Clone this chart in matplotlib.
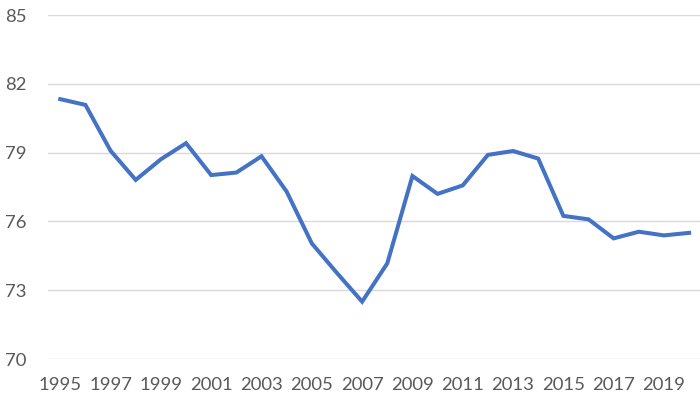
import numpy as np
import matplotlib.pyplot as plt

years = list(range(1995, 2021))
values = [81.33, 81.08, 79.08, 77.81, 78.71, 79.41, 78.02, 78.13, 78.84, 77.3,
          75.04, 73.75, 72.5, 74.17, 77.98, 77.2, 77.57, 78.9, 79.07, 78.74,
          76.24, 76.09, 75.26, 75.55, 75.39, 75.5]
yticks = [70, 73, 76, 79, 82, 85]
xlabels = [str(y) for y in years[::2]]

plt.rcParams['font.family'] = ['Lato', 'DejaVu Sans']

fig = plt.figure(figsize=(7, 4.04), dpi=100)
ax = fig.add_axes([47.7/700, 45/404, 654/700, 344/404])

x = np.arange(len(years))
ax.plot(x, values, color='#4472C4', linewidth=2.9, solid_joinstyle='miter', zorder=3)

ax.set_xlim(-0.5, len(years) - 0.5)
ax.set_ylim(70, 85)
ax.set_yticks(yticks)
ax.set_xticks(x[::2])
ax.set_xticklabels(xlabels)
ax.grid(True, axis='y', color='#D9D9D9', linewidth=1.0)
ax.set_axisbelow(True)
for s in ax.spines.values():
    s.set_visible(False)
ax.tick_params(axis='both', length=0, labelsize=13.3, colors='#595959')
ax.tick_params(axis='y', pad=15.5)
ax.tick_params(axis='x', pad=13)

fig.savefig('out.png', dpi=100)
